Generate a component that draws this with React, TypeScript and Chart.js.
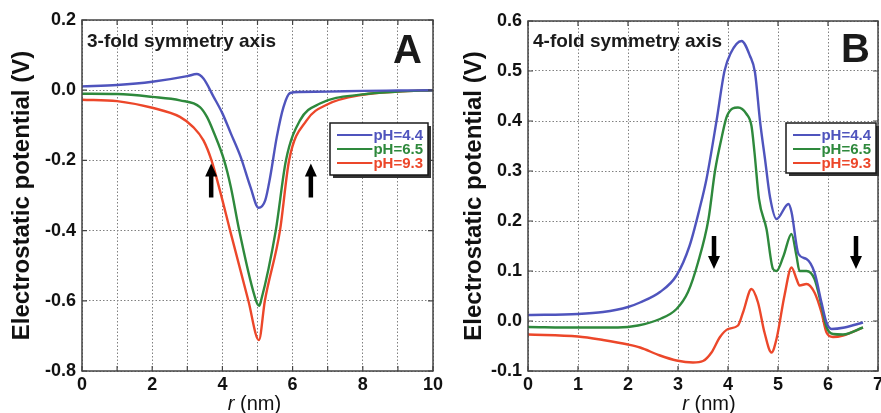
import React, { useEffect, useRef } from 'react';
import { Chart, registerables } from 'chart.js';
Chart.register(...registerables);

const FONT = "'Liberation Sans', Arial, Helvetica, sans-serif";

const seriesLabels = ['pH=4.4', 'pH=6.5', 'pH=9.3'];
const seriesColors = ['#4f54bd', '#2e893c', '#ec472a'];
const yAxisTitle = 'Electrostatic potential (V)';
const xAxisTitleItalic = 'r';
const xAxisTitleRest = ' (nm)';

// Panel A: 3-fold symmetry axis
const titleA = '3-fold symmetry axis';
const letterA = 'A';
const rA44 = [0, 1, 2, 3, 3.27, 3.46, 3.75, 4, 4.24, 4.52, 4.8, 5.03, 5.22, 5.36, 5.55, 5.74, 5.93, 6.2, 7, 8, 9, 10];
const vA44 = [0.011, 0.015, 0.024, 0.04, 0.046, 0.033, -0.019, -0.066, -0.123, -0.19, -0.276, -0.335, -0.314, -0.248, -0.133, -0.048, -0.008, -0.005, -0.004, -0.002, -0.001, 0];
const rA65 = [0, 1, 2, 2.79, 3.36, 3.56, 3.75, 4.05, 4.24, 4.48, 4.96, 5.05, 5.1, 5.52, 5.81, 6.21, 6.78, 8, 9, 10];
const vA65 = [-0.01, -0.011, -0.019, -0.029, -0.048, -0.076, -0.119, -0.2, -0.276, -0.4, -0.6, -0.614, -0.6, -0.4, -0.2, -0.086, -0.038, -0.012, -0.004, 0];
const rA93 = [0, 1, 2, 2.79, 3.17, 3.46, 3.69, 3.93, 4.22, 4.74, 5.04, 5.21, 5.64, 5.9, 6.4, 7, 8, 9, 10];
const vA93 = [-0.027, -0.031, -0.05, -0.076, -0.105, -0.143, -0.2, -0.286, -0.4, -0.6, -0.712, -0.6, -0.4, -0.2, -0.086, -0.04, -0.013, -0.004, 0];
const arrowsAx = [3.68, 6.52];
const arrowsAtail = [-0.306, -0.306];
const arrowsAtip = [-0.209, -0.209];

// Panel B: 4-fold symmetry axis
const titleB = '4-fold symmetry axis';
const letterB = 'B';
const rB44 = [0, 1, 1.5, 2, 2.24, 2.64, 2.97, 3.23, 3.43, 3.57, 3.77, 3.93, 4.05, 4.27, 4.44, 4.54, 4.64, 4.74, 4.84, 4.97, 5.21, 5.27, 5.41, 5.57, 5.73, 5.87, 5.97, 6.07, 6.33, 6.7];
const vB44 = [0.012, 0.014, 0.018, 0.028, 0.037, 0.058, 0.091, 0.15, 0.224, 0.284, 0.4, 0.5, 0.535, 0.56, 0.53, 0.497, 0.4, 0.324, 0.248, 0.204, 0.234, 0.218, 0.134, 0.124, 0.097, 0.037, -0.003, -0.016, -0.013, -0.003];
const rB65 = [0, 1, 1.8, 2.2, 2.64, 2.97, 3.2, 3.4, 3.61, 3.74, 3.88, 3.98, 4.2, 4.37, 4.47, 4.53, 4.62, 4.77, 4.9, 4.97, 5.11, 5.27, 5.37, 5.43, 5.57, 5.73, 5.87, 5.97, 6.1, 6.3, 6.7];
const vB65 = [-0.012, -0.013, -0.013, -0.009, 0.004, 0.024, 0.058, 0.117, 0.204, 0.3, 0.37, 0.41, 0.427, 0.414, 0.39, 0.337, 0.244, 0.184, 0.104, 0.1, 0.13, 0.174, 0.13, 0.1, 0.1, 0.084, 0.031, -0.012, -0.026, -0.027, -0.013];
const rB93 = [0, 1, 1.5, 2, 2.24, 2.64, 2.97, 3.3, 3.5, 3.67, 3.84, 4.0, 4.2, 4.3, 4.47, 4.6, 4.73, 4.87, 4.97, 5.13, 5.27, 5.37, 5.43, 5.57, 5.73, 5.87, 5.97, 6.1, 6.3, 6.7];
const vB93 = [-0.027, -0.031, -0.038, -0.047, -0.053, -0.069, -0.079, -0.083, -0.08, -0.063, -0.032, -0.016, -0.009, 0.017, 0.064, 0.037, -0.023, -0.063, -0.036, 0.051, 0.107, 0.084, 0.071, 0.074, 0.057, 0.017, -0.023, -0.032, -0.029, -0.013];
const arrowsBx = [3.72, 6.56];
const arrowsBtail = [0.17, 0.17];
const arrowsBtip = [0.104, 0.104];

type Panel = {
  left: number; width: number; padTop: number; padRight: number; yWidth: number; yTitlePad: number;
  xMin: number; xMax: number; xLabelEvery: number; yMin: number; yMax: number; yStep: number;
  series: { r: number[]; v: number[] }[];
  title: string; letter: string; letterInset: number; letterBase: number; titleBase: number;
  legRight: number; legTop: number; legW: number; legH: number;
  arrX: number[]; arrTail: number[]; arrTip: number[]; xTitleShift: number;
};

const panels: Panel[] = [
  {
    left: 0, width: 452, padTop: 20, padRight: 19, yWidth: 82, yTitlePad: 8,
    xMin: 0, xMax: 10, xLabelEvery: 2, yMin: -0.8, yMax: 0.2, yStep: 0.2,
    series: [{ r: rA44, v: vA44 }, { r: rA65, v: vA65 }, { r: rA93, v: vA93 }],
    title: titleA, letter: letterA, letterInset: 11, letterBase: 63, titleBase: 47,
    legRight: 5, legTop: 103, legW: 98, legH: 52,
    arrX: arrowsAx, arrTail: arrowsAtail, arrTip: arrowsAtip, xTitleShift: -3,
  },
  {
    left: 440, width: 441, padTop: 21, padRight: 3, yWidth: 88, yTitlePad: 20,
    xMin: 0, xMax: 7, xLabelEvery: 1, yMin: -0.1, yMax: 0.6, yStep: 0.1,
    series: [{ r: rB44, v: vB44 }, { r: rB65, v: vB65 }, { r: rB93, v: vB93 }],
    title: titleB, letter: letterB, letterInset: 8, letterBase: 62, titleBase: 47,
    legRight: 2, legTop: 102, legW: 90, legH: 50,
    arrX: arrowsBx, arrTail: arrowsBtail, arrTip: arrowsBtip, xTitleShift: 6,
  },
];

function drawArrow(ctx: CanvasRenderingContext2D, x: number, yTail: number, yTip: number) {
  const dir = Math.sign(yTip - yTail);
  const headLen = 13, headW = 12, shaftW = 4.5;
  ctx.beginPath();
  ctx.moveTo(x - shaftW / 2, yTail);
  ctx.lineTo(x - shaftW / 2, yTip - dir * headLen);
  ctx.lineTo(x - headW / 2, yTip - dir * headLen);
  ctx.lineTo(x, yTip);
  ctx.lineTo(x + headW / 2, yTip - dir * headLen);
  ctx.lineTo(x + shaftW / 2, yTip - dir * headLen);
  ctx.lineTo(x + shaftW / 2, yTail);
  ctx.closePath();
  ctx.fill();
}

function makeDecor(p: Panel) {
  return {
    id: 'decor',
    afterDatasetsDraw(chart: any) {
      const { ctx, chartArea: a, scales } = chart;
      ctx.save();
      ctx.strokeStyle = '#444';
      ctx.lineWidth = 1.2;
      const tl = 5;
      scales.x.ticks.forEach((t: any) => {
        const px = scales.x.getPixelForValue(t.value);
        ctx.beginPath();
        ctx.moveTo(px, a.bottom); ctx.lineTo(px, a.bottom - tl);
        ctx.moveTo(px, a.top); ctx.lineTo(px, a.top + tl);
        ctx.stroke();
      });
      scales.y.ticks.forEach((t: any) => {
        const py = scales.y.getPixelForValue(t.value);
        ctx.beginPath();
        ctx.moveTo(a.left, py); ctx.lineTo(a.left + tl, py);
        ctx.moveTo(a.right, py); ctx.lineTo(a.right - tl, py);
        ctx.stroke();
      });
      ctx.lineWidth = 1.5;
      ctx.strokeRect(a.left, a.top, a.right - a.left, a.bottom - a.top);
      ctx.restore();
    },
    afterDraw(chart: any) {
      const { ctx, chartArea: a, scales } = chart;
      ctx.save();
      ctx.fillStyle = '#1a1a1a';
      ctx.textBaseline = 'alphabetic';
      ctx.textAlign = 'left';
      ctx.font = `bold 19px ${FONT}`;
      ctx.fillText(p.title, a.left + 5, p.titleBase);
      ctx.textAlign = 'right';
      ctx.font = `bold 40px ${FONT}`;
      ctx.fillText(p.letter, a.right - p.letterInset, p.letterBase);
      ctx.fillStyle = '#000';
      p.arrX.forEach((xv, i) => {
        drawArrow(ctx, scales.x.getPixelForValue(xv), scales.y.getPixelForValue(p.arrTail[i]), scales.y.getPixelForValue(p.arrTip[i]));
      });
      const bx = a.right - p.legRight - p.legW;
      const by = a.top + p.legTop;
      ctx.fillStyle = '#333';
      ctx.fillRect(bx + 3, by + 3, p.legW, p.legH);
      ctx.fillStyle = '#fff';
      ctx.fillRect(bx, by, p.legW, p.legH);
      ctx.strokeStyle = '#1a1a1a';
      ctx.lineWidth = 1.5;
      ctx.strokeRect(bx, by, p.legW, p.legH);
      ctx.font = `bold 15px ${FONT}`;
      ctx.textAlign = 'right';
      ctx.textBaseline = 'middle';
      chart.data.datasets.forEach((ds: any, i: number) => {
        const y = by + 12 + i * 14;
        const tx = bx + p.legW - 5;
        const w = ctx.measureText(ds.label).width;
        ctx.strokeStyle = ds.borderColor;
        ctx.lineWidth = 2;
        ctx.beginPath();
        ctx.moveTo(bx + 7, y);
        ctx.lineTo(tx - w - 1, y);
        ctx.stroke();
        ctx.fillStyle = ds.borderColor;
        ctx.fillText(ds.label, tx, y + 0.5);
      });
      ctx.fillStyle = '#111';
      ctx.textAlign = 'left';
      ctx.textBaseline = 'alphabetic';
      ctx.font = `italic 20px ${FONT}`;
      const w1 = ctx.measureText(xAxisTitleItalic).width;
      ctx.font = `20px ${FONT}`;
      const w2 = ctx.measureText(xAxisTitleRest).width;
      const cx = (a.left + a.right) / 2 + p.xTitleShift;
      const sx = cx - (w1 + w2) / 2;
      ctx.font = `italic 20px ${FONT}`;
      ctx.fillText(xAxisTitleItalic, sx, 410);
      ctx.font = `20px ${FONT}`;
      ctx.fillText(xAxisTitleRest, sx + w1, 410);
      ctx.restore();
    },
  };
}

function fmt(v: number) {
  const r = Math.round(v * 10) / 10;
  return Math.abs(r) < 1e-9 ? '0.0' : r.toFixed(1);
}

function PanelChart({ p }: { p: Panel }) {
  const ref = useRef<HTMLCanvasElement>(null);
  useEffect(() => {
    if (!ref.current) return;
    const tickFont = { family: FONT, size: 18, weight: 'bold' as const };
    const chart = new Chart(ref.current, {
      type: 'line',
      data: {
        datasets: p.series.map((s, i) => ({
          label: seriesLabels[i],
          data: s.r.map((r, j) => ({ x: r, y: s.v[j] })),
          borderColor: seriesColors[i],
          backgroundColor: seriesColors[i],
          borderWidth: 2.4,
          pointRadius: 0,
          fill: false,
          cubicInterpolationMode: 'monotone' as const,
        })),
      },
      options: {
        responsive: false,
        animation: false,
        events: [],
        layout: { padding: { top: p.padTop, right: p.padRight, left: 0, bottom: 0 } },
        plugins: { legend: { display: false }, tooltip: { enabled: false } },
        scales: {
          x: {
            type: 'linear',
            min: p.xMin,
            max: p.xMax,
            afterFit: (s: any) => { s.height = 42; s.paddingLeft = 0; s.paddingRight = 0; },
            ticks: {
              stepSize: 1,
              autoSkip: false,
              maxRotation: 0,
              padding: 3,
              color: '#111',
              font: tickFont,
              callback: (v: any) => (Math.round(v) % p.xLabelEvery === 0 ? String(Math.round(v)) : ''),
            },
            grid: { color: '#808080', lineWidth: 1, drawTicks: false },
            border: { display: false, dash: [1.5, 2] },
          },
          y: {
            type: 'linear',
            min: p.yMin,
            max: p.yMax,
            afterFit: (s: any) => { s.width = p.yWidth; s.paddingTop = 0; s.paddingBottom = 0; },
            ticks: {
              stepSize: p.yStep,
              autoSkip: false,
              padding: 6,
              color: '#111',
              font: tickFont,
              callback: (v: any) => fmt(Number(v)),
            },
            grid: { color: '#808080', lineWidth: 1, drawTicks: false },
            border: { display: false, dash: [1.5, 2] },
            title: {
              display: true,
              text: yAxisTitle,
              color: '#111',
              font: { family: FONT, size: 24, weight: 'bold' },
              padding: { top: p.yTitlePad, bottom: 0 },
            },
          },
        },
      },
      plugins: [makeDecor(p)],
    } as any);
    return () => chart.destroy();
  }, [p]);
  return (
    <canvas
      ref={ref}
      width={p.width}
      height={413}
      style={{ position: 'absolute', left: p.left, top: 0, width: p.width, height: 413 }}
    />
  );
}

export default function App() {
  return (
    <div style={{ position: 'fixed', left: 0, top: 0, width: 881, height: 413, background: '#fff', overflow: 'hidden' }}>
      <PanelChart p={panels[0]} />
      <PanelChart p={panels[1]} />
    </div>
  );
}
